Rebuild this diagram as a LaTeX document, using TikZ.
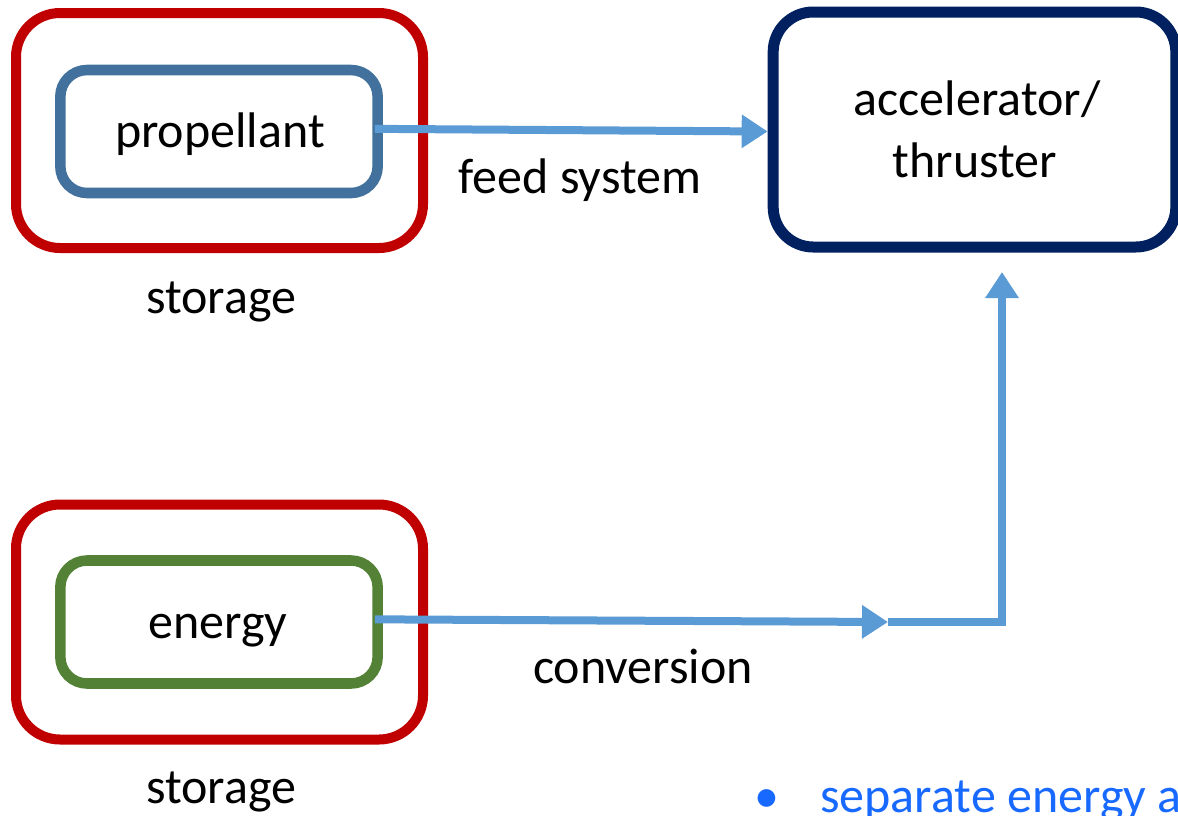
\documentclass[tikz,border=0pt]{standalone}
\usepackage{fontspec}
\setmainfont{Carlito}
\usetikzlibrary{arrows.meta}
\definecolor{storagered}{HTML}{C00000}
\definecolor{propblue}{HTML}{41719C}
\definecolor{energygreen}{HTML}{538135}
\definecolor{thrustnavy}{HTML}{002060}
\definecolor{flowblue}{HTML}{5B9BD5}
\definecolor{bulletblue}{RGB}{23,105,255}
\tikzset{
  txt/.style={font=\fontsize{37.5}{45}\selectfont, inner sep=0pt, anchor=base},
  storebox/.style={draw=storagered, line width=7.5pt, rounded corners=33pt,
    minimum width=305.25pt, minimum height=176.25pt, inner sep=0pt},
  itembox/.style={line width=7.9pt, rounded corners=20pt,
    minimum width=238pt, minimum height=92.25pt, inner sep=0pt},
  mainbox/.style={draw=thrustnavy, line width=8.25pt, rounded corners=30pt,
    minimum width=302pt, minimum height=176.25pt, inner sep=0pt},
  flow/.style={draw=flowblue, line width=6pt},
  flowtip/.style={-{Triangle[length=19.5pt, width=24pt]}},
}
\begin{document}
\begin{tikzpicture}[x=0.75pt, y=-0.75pt]
  \useasboundingbox (0,0) rectangle (1178,815);
  % storage containers
  \node[storebox] (store1) at (219.5,130.5) {};
  \node[storebox] (store2) at (219.5,622) {};
  % propellant and energy
  \node[itembox, draw=propblue] (prop) at (219,131.5) {};
  \node[itembox, draw=energygreen] (energy) at (219,622) {};
  % accelerator / thruster
  \node[mainbox] (acc) at (974.5,129.5) {};
  % labels
  \node[txt] (propl) at (220,147) {propellant};
  \node[txt] (energyl) at (218,638) {energy};
  \node[txt] (accl1) at (977,115) {accelerator/};
  \node[txt] (accl2) at (975,177) {thruster};
  \node[txt] (st1) at (221,313) {storage};
  \node[txt] (st2) at (221,803) {storage};
  \node[txt] (feed) at (580,193) {feed system};
  \node[txt] (conv) at (643,683) {conversion};
  % flows
  \draw[flow, flowtip] ([xshift=-6pt,yshift=2pt]prop.east) -- ([yshift=-1.5pt]acc.west);
  \coordinate (turn) at (888,622);
  \coordinate (tip) at (1002,272);
  \draw[flow, flowtip] ([xshift=-6pt,yshift=2pt]energy.east) -- (turn);
  \draw[flow, flowtip] (turn) -| (tip);
  % bullet line
  \node[txt, text=bulletblue] (bul) at (767,812) {•};
  \node[txt, text=bulletblue, anchor=base west] (sep) at (820,812) {separate energy a};
\end{tikzpicture}
\end{document}
